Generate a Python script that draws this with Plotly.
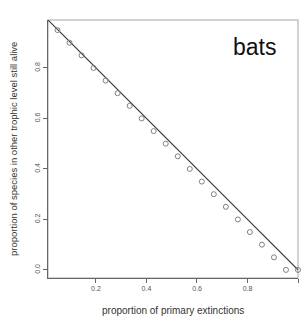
import plotly.graph_objects as go

x_vals = [1/21, 2/21, 3/21, 4/21, 5/21, 6/21, 7/21, 8/21, 9/21, 10/21, 11/21,
          12/21, 13/21, 14/21, 15/21, 16/21, 17/21, 18/21, 19/21, 20/21, 21/21]
y_vals = [0.95, 0.90, 0.85, 0.80, 0.75, 0.70, 0.65, 0.60, 0.55, 0.50, 0.45,
          0.40, 0.35, 0.30, 0.25, 0.20, 0.15, 0.10, 0.05, 0.0, 0.0]
ref_x = [0.0, 1.0]
ref_y = [1.0, 0.0]
x_ticks = [0.2, 0.4, 0.6, 0.8, 1.0]
y_ticks = [0.0, 0.2, 0.4, 0.6, 0.8]

fig = go.Figure()
fig.add_trace(go.Scatter(x=ref_x, y=ref_y, mode="lines",
                         line=dict(color="#3a3a3a", width=1.2), showlegend=False))
fig.add_trace(go.Scatter(x=x_vals, y=y_vals, mode="markers",
                         marker=dict(symbol="circle-open", size=5, color="#808080",
                                     line=dict(width=1)),
                         cliponaxis=False, showlegend=False))

fig.add_shape(type="rect", xref="paper", yref="paper", x0=0, y0=0, x1=1, y1=1,
              line=dict(color="#c4c4c4", width=1.5), layer="below")

fig.update_layout(
    width=302, height=318,
    margin=dict(l=48, r=4, t=20, b=40),
    paper_bgcolor="white", plot_bgcolor="white",
    font=dict(family="Liberation Sans, Arial, sans-serif", color="#444444"),
    xaxis=dict(range=[0.01, 1.0], tickvals=x_ticks, ticktext=[f"{v:.1f}" for v in x_ticks],
               showgrid=False, zeroline=False, showline=True, linecolor="#666666",
               linewidth=1, ticks="outside", ticklen=4, tickcolor="#666666",
               tickfont=dict(size=7, color="#555555")),
    yaxis=dict(range=[-0.032, 0.99], tickvals=y_ticks, ticktext=[f"{v:.1f}" for v in y_ticks],
               showgrid=False, zeroline=False, showline=True, linecolor="#666666",
               linewidth=1, ticks="outside", ticklen=4, tickcolor="#666666",
               tickangle=-90, tickfont=dict(size=7, color="#555555")),
    annotations=[
        dict(text="bats", xref="paper", yref="paper", x=0.92, y=0.955,
             xanchor="right", yanchor="top", showarrow=False,
             font=dict(size=23, color="#111111")),
        dict(text="proportion of primary extinctions", xref="paper", yref="paper",
             x=0.5, y=-0.125, xanchor="center", yanchor="middle", showarrow=False,
             font=dict(size=10, color="#333333")),
        dict(text="proportion of species in other trophic level still alive",
             xref="paper", yref="paper", x=-0.14, y=0.5, xanchor="center",
             yanchor="middle", textangle=-90, showarrow=False,
             font=dict(size=9.5, color="#333333")),
    ],
)

fig.write_html("out.html", config={"displayModeBar": False},
               post_script="document.body.style.margin='0';document.body.style.overflow='hidden';")
